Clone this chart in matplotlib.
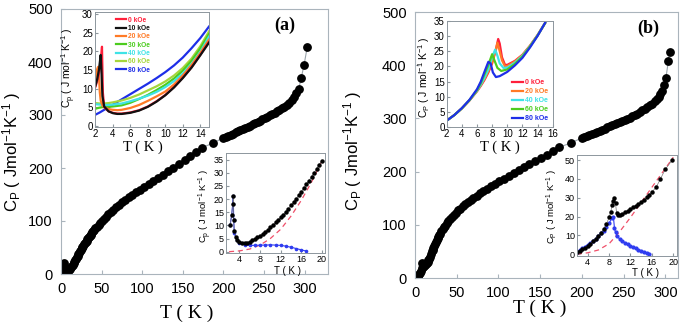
import matplotlib.pyplot as plt

plt.rcParams['font.family'] = 'Liberation Sans'
plt.rcParams['mathtext.default'] = 'regular'

SERIF = 'Liberation Serif'
SPINE = '#aab4bc'

# ---------------- panel (a): main curve
t_a = [1.8, 2.2, 2.5, 2.8, 3.0, 3.5, 4, 5, 6, 7, 8, 9, 10, 11, 12, 13, 14, 15, 16, 17,
       18, 19, 20, 21, 22, 23, 24, 25, 26, 27, 28, 29, 30, 31, 32, 33, 34, 35, 36, 37,
       38, 39, 40, 42, 44, 46, 48, 50, 52.5, 55, 58, 61, 64, 67.5, 71, 75, 79, 83, 87.5,
       92, 97, 102, 107.5, 113, 119, 125, 131.5, 138, 145, 152, 159, 166, 173, 187,
       200, 203, 206, 209, 212, 215, 218, 221, 224, 227, 230, 233, 236, 239, 242, 245,
       248, 251, 254, 257, 260, 263, 266, 269, 272, 275, 278, 281, 284, 287, 290, 293,
       296, 299.5, 303.5]
cp_a = [12, 16, 19, 20, 8, 4.5, 3.5, 3.2, 3.8, 4.8, 6.1, 7.6, 9.3, 11.1, 13.1, 15.2, 17.6,
        20.1, 22.8, 25.6, 28.5, 31.6, 34.6, 37.5, 40.3, 43, 45.7, 48.3, 50.9, 53.4, 55.9,
        58.4, 60.8, 63.2, 65.5, 67.8, 70, 72.2, 74.3, 76.4, 78.4, 80.4, 82.3, 86, 89.5,
        93, 96.5, 100, 104, 108, 112.5, 117, 121, 125.5, 130, 135, 140, 144.5, 149.5,
        154, 159, 164, 169.5, 175, 181, 187, 193.5, 200, 208, 215, 222, 230, 238, 247,
        257, 259, 261, 263, 265, 267, 269, 271, 273, 275, 277.5, 280, 282.5, 285, 287,
        289.5, 292, 294.5, 297, 299.5, 302, 304.5, 307, 310, 313, 316, 319, 323, 328,
        334, 341, 350, 370, 395, 429]

# panel (a) upper inset: Cp(T) in fields
fields_a = ['0 kOe', '10 kOe', '20 kOe', '30 kOe', '40 kOe', '60 kOe', '80 kOe']
colors_a = ['#ff1f3a', '#111111', '#ff7a26', '#4ccc1e', '#3fe3e6', '#a6d63c', '#1e2ee8']
t_spike0 = [2.0, 2.2, 2.4, 2.55, 2.65, 2.75, 2.85, 3.0, 3.5, 4.0, 4.5, 5.0, 6, 7, 8, 9,
            10, 11, 12, 13, 14, 15]
cp_0koe = [10.5, 12.0, 14.0, 16.5, 18.5, 21.2, 9.0, 5.0, 3.9, 3.5, 3.3, 3.3, 3.6, 4.2,
           5.2, 6.6, 8.3, 10.4, 12.9, 15.7, 19.0, 22.5]
t_spike10 = [2.0, 2.2, 2.4, 2.5, 2.6, 2.7, 2.8, 3.0, 3.5, 4.0, 4.5, 5.0, 6, 7, 8, 9, 10,
             11, 12, 13, 14, 15]
cp_10koe = [10.8, 12.5, 15.0, 17.0, 19.0, 14.0, 8.0, 5.2, 3.9, 3.4, 3.2, 3.2, 3.5, 4.1,
            5.1, 6.5, 8.2, 10.3, 12.8, 15.6, 18.9, 22.3]
t_spike20 = [2.0, 2.1, 2.2, 2.3, 2.4, 2.5, 2.6, 2.8, 3.0, 3.5, 4.0, 4.5, 5, 6, 7, 8, 9,
             10, 11, 12, 13, 14, 15]
cp_20koe = [12.5, 14.0, 15.2, 15.8, 13.5, 9.0, 6.8, 5.5, 5.0, 4.5, 4.3, 4.2, 4.3, 4.8,
            5.6, 6.7, 7.9, 9.2, 11.1, 13.5, 16.3, 19.5, 23.1]
t_smooth = [2, 2.5, 3, 3.5, 4, 5, 6, 7, 8, 9, 10, 11, 12, 13, 14, 15]
cp_30koe = [4.6, 4.9, 5.1, 5.1, 5.2, 5.5, 6.2, 7.2, 8.3, 9.6, 11.0, 12.7, 14.8, 17.4, 20.7, 24.6]
cp_40koe = [5.8, 5.7, 5.6, 5.6, 5.7, 6.0, 6.6, 7.3, 8.1, 9.1, 10.4, 12.0, 14.0, 16.6, 19.8, 23.9]
cp_60koe = [6.1, 6.0, 6.0, 6.1, 6.3, 6.8, 7.5, 8.4, 9.5, 10.6, 11.9, 13.5, 15.5, 18.0, 21.3, 25.3]
cp_80koe = [3.0, 3.6, 4.3, 5.0, 5.7, 7.1, 8.5, 9.9, 11.3, 12.8, 14.4, 16.2, 18.3, 20.8, 23.5, 26.6]

# panel (a) lower inset: total, lattice, magnetic
t_tot_a = [2.2, 2.5, 2.7, 2.8, 2.9, 3.0, 3.3, 3.6, 4.0, 4.5, 5, 5.5, 6, 6.5, 7, 7.5, 8, 8.5,
           9, 9.5, 10, 10.5, 11, 11.5, 12, 12.5, 13, 13.5, 14, 14.5, 15, 15.5, 16, 16.5,
           17, 17.5, 18, 18.5, 19, 19.5, 20]
cp_tot_a = [10, 14, 18, 21, 12, 8, 5.5, 4.3, 3.6, 3.3, 3.2, 3.4, 3.8, 4.3, 4.8, 5.4, 6.1,
            6.8, 7.6, 8.4, 9.3, 10.2, 11.1, 12.1, 13.1, 14.1, 15.2, 16.4, 17.6, 18.8, 20.1,
            21.4, 22.8, 24.2, 25.6, 27.0, 28.5, 30.0, 31.6, 33.1, 34.6]
t_lat_a = [2, 4, 6, 8, 10, 12, 14, 16, 18, 20]
cp_lat_a = [0, 0.3, 1.0, 2.5, 5.0, 8.5, 13.5, 19.5, 26.5, 34.5]
t_mag_a = [2.2, 2.5, 2.7, 2.8, 2.9, 3.0, 3.5, 4, 5, 6, 7, 8, 9, 10, 11, 12, 13, 14, 15,
           16, 17]
cp_mag_a = [10, 14, 18, 21, 12, 7, 4.5, 3.3, 2.6, 2.4, 2.4, 2.5, 2.5, 2.6, 2.5, 2.4, 2.1,
            1.7, 1.2, 0.7, 0.2]

# ---------------- panel (b): main curve
t_b = [2, 3, 4, 5, 6, 7, 8, 8.7, 9.2, 10, 11, 12, 13, 14, 15, 16, 17, 18, 19, 20, 21, 22,
       23, 24, 25, 26, 27, 28, 29, 30, 31.5, 33, 34.5, 36, 38, 40, 42, 44, 46.5, 49, 51.5,
       54, 57, 60, 63, 66.5, 70, 74, 78, 82, 86.5, 91, 96, 101, 106.5, 112, 118, 124,
       130.5, 137, 144, 151, 158, 165, 173, 187, 200, 203, 206, 209, 212, 215, 218, 221,
       224, 227, 230, 233, 236, 239, 242, 245, 248, 251, 254, 257, 260, 263, 266, 269,
       272, 275, 278, 281, 284, 287, 290, 292, 294, 296, 298, 300.5, 303.5, 305]
cp_b = [1, 2.5, 4.5, 6.8, 9.6, 13.5, 19.5, 29, 24, 21, 22.2, 24, 25.8, 27.7, 30.2, 33,
        36.5, 40, 45, 50, 53.5, 57, 60.5, 64, 67.5, 71, 74.5, 77.5, 80.5, 83.5, 87.5,
        91.5, 95, 98.5, 103, 107, 111, 114.5, 119, 123, 127, 130.5, 134.5, 138.5, 142,
        146, 150, 154.5, 159, 163, 167.5, 172, 177, 182, 187, 192, 197.5, 203, 208.5,
        214, 220, 226, 232, 238, 246, 254, 263.5, 265, 267, 269, 271, 273, 275, 277, 279,
        281, 283, 285, 287, 289, 291, 293, 295, 297, 299, 301.5, 304, 306.5, 309, 312,
        315, 318, 321, 324.5, 328, 332, 337, 341, 345, 352, 362, 376, 408, 425]

# panel (b) upper inset
fields_b = ['0 kOe', '20 kOe', '40 kOe', '60 kOe', '80 kOe']
colors_b = ['#ff1f3a', '#ff7a26', '#3fe3e6', '#4ccc1e', '#1e2ee8']
t_b0 = [2, 3, 4, 5, 6, 6.5, 7, 7.5, 8, 8.5, 8.8, 9.0, 9.3, 9.7, 10, 11, 12, 13, 14, 15]
cp_b0 = [2.2, 4.0, 6.2, 8.8, 11.8, 13.6, 15.6, 18.0, 21.0, 25.5, 29.0, 27.5, 23.0, 20.5,
         20.5, 21.8, 23.8, 26.8, 30.3, 34.3]
t_b20 = [2, 3, 4, 5, 6, 6.5, 7, 7.5, 8, 8.5, 8.7, 9.0, 9.3, 9.7, 10, 11, 12, 13, 14, 15]
cp_b20 = [2.2, 4.0, 6.2, 8.8, 11.9, 13.8, 15.9, 18.4, 21.5, 25.5, 27.8, 25.0, 22.0, 20.0,
          20.1, 21.6, 23.7, 26.7, 30.2, 34.2]
t_b40 = [2, 3, 4, 5, 6, 6.5, 7, 7.5, 8, 8.4, 8.7, 9.0, 9.5, 10, 11, 12, 13, 14, 15]
cp_b40 = [2.2, 4.0, 6.2, 8.9, 12.0, 14.0, 16.3, 19.0, 23.0, 25.5, 23.5, 21.0, 19.5, 19.6,
          21.2, 23.5, 26.6, 30.2, 34.3]
t_b60 = [2, 3, 4, 5, 6, 6.5, 7, 7.5, 8.0, 8.3, 8.7, 9.2, 10, 11, 12, 13, 14, 15]
cp_b60 = [2.2, 4.0, 6.2, 8.9, 12.2, 14.5, 17.5, 20.5, 24.0, 22.0, 19.5, 18.5, 19.0, 20.8,
          23.2, 26.5, 30.1, 34.2]
t_b80 = [2, 3, 4, 5, 6, 6.5, 7, 7.5, 7.8, 8.1, 8.5, 9, 10, 11, 12, 13, 14, 15]
cp_b80 = [2.2, 4.0, 6.3, 9.0, 12.5, 15.0, 18.3, 21.5, 21.0, 18.0, 16.5, 16.8, 18.2, 20.3,
          22.8, 26.2, 30.0, 34.3]

# panel (b) lower inset
t_tot_b = [2, 2.5, 3, 3.5, 4, 4.5, 5, 5.5, 6, 6.5, 7, 7.5, 8, 8.3, 8.6, 8.8, 9.0, 9.2, 9.4,
           9.7, 10, 10.5, 11, 11.5, 12, 12.5, 13, 13.5, 14, 14.5, 15, 15.5, 16, 16.8, 17.6,
           18.5, 19.8]
cp_tot_b = [1.2, 1.8, 2.5, 3.4, 4.5, 5.6, 6.8, 8.1, 9.6, 11.4, 13.5, 16, 19.5, 22.5, 26,
            28, 30, 27, 22, 21, 21, 21.5, 22.2, 23.1, 24, 24.9, 25.8, 26.7, 27.7, 28.9,
            30.2, 31.5, 33, 35.5, 40, 45, 50]
t_lat_b = [2, 4, 6, 8, 10, 12, 14, 16, 18, 20]
cp_lat_b = [0, 0.7, 2.2, 5.5, 12, 19.5, 27.5, 35.5, 43.5, 51.5]
t_mag_b = [2, 2.5, 3, 3.5, 4, 4.5, 5, 5.5, 6, 6.5, 7, 7.5, 8, 8.5, 8.8, 9.0, 9.2, 9.5, 10,
           10.5, 11, 11.5, 12, 12.5, 13, 13.5, 14, 14.5, 15, 15.5]
cp_mag_b = [1.2, 2.0, 3, 4, 5, 6, 7, 8.2, 9.5, 11, 12.5, 14.5, 16.5, 19, 20, 14, 11.5, 9.5,
            8, 7, 6, 5.2, 4.5, 3.7, 3, 2.4, 1.8, 1.3, 0.8, 0.2]


def style_main(ax):
    for s in ax.spines.values():
        s.set_color(SPINE)
        s.set_linewidth(0.8)
    ax.tick_params(direction='in', length=3, color=SPINE, labelsize=10.5, pad=6)


def style_inset(ax, size=7):
    for s in ax.spines.values():
        s.set_color('#8d969d')
        s.set_linewidth(0.7)
    ax.tick_params(direction='in', length=2, color='#8d969d', labelsize=size, pad=1.5)
    ax.set_facecolor('white')


fig = plt.figure(figsize=(6.85, 3.24), dpi=100)
W, H = 685.0, 324.0


def box(l, t, r, b):
    return [l / W, 1 - b / H, (r - l) / W, (b - t) / H]


line_kw = dict(color='#9aa4ab', lw=0.8, marker='o', ms=5.3, mfc='black', mec='black')

# ---- main (a)
ax = fig.add_axes(box(61, 9, 328, 274))
ax.plot(t_a, cp_a, **line_kw)
ax.set_xlim(-0.5, 329)
ax.set_ylim(0, 500)
ax.set_xticks(range(0, 301, 50))
ax.set_yticks(range(0, 501, 100))
style_main(ax)
fig.text(12 / W, 1 - 152 / H, 'C$_P$ ( Jmol$^{-1}$K$^{-1}$ )', rotation=90,
         ha='center', va='center', fontsize=12)
fig.text(187 / W, 1 - 313 / H, 'T ( K )', family=SERIF, fontsize=14,
         ha='center', va='center')
fig.text(285 / W, 1 - 25 / H, '(a)', family=SERIF, fontsize=13, weight='bold',
         ha='center', va='center')

# ---- inset (a) top
ai = fig.add_axes(box(95, 12, 209, 127))
series = [(t_spike0, cp_0koe), (t_spike10, cp_10koe), (t_spike20, cp_20koe),
          (t_smooth, cp_30koe), (t_smooth, cp_40koe), (t_smooth, cp_60koe),
          (t_smooth, cp_80koe)]
order = [6, 5, 3, 4, 2, 0, 1]
lines = {}
for i in order:
    tt, cc = series[i]
    lines[i], = ai.plot(tt, cc, color=colors_a[i], lw=1.6, label=fields_a[i])
ai.set_xlim(1.95, 15)
ai.set_ylim(-0.3, 30.5)
ai.set_xticks(range(2, 15, 2))
ai.set_yticks(range(0, 31, 5))
style_inset(ai)
ai.legend([lines[i] for i in range(7)], fields_a, loc='upper left',
          bbox_to_anchor=(0.14, 1.0), frameon=False, labelcolor='linecolor',
          prop={'size': 4.8, 'weight': 'bold'}, handlelength=1.6, handletextpad=0.2,
          labelspacing=0.2, borderpad=0.2)
fig.text(69 / W, 1 - 68 / H, 'C$_p$ ( J mol$^{-1}$ K$^{-1}$ )', rotation=90,
         ha='center', va='center', fontsize=7.5)
fig.text(143 / W, 1 - 147 / H, 'T ( K )', family=SERIF, fontsize=10.5,
         ha='center', va='center')

# ---- inset (a) bottom
ab = fig.add_axes(box(226, 153, 325, 253))
ab.plot(t_lat_a, cp_lat_a, color='#f0506a', lw=0.9, ls=(0, (4, 3)))
ab.plot(t_mag_a, cp_mag_a, color='#2f3cf0', lw=0.8, marker='o', ms=1.6)
ab.plot(t_tot_a, cp_tot_a, color='#777777', lw=0.5, marker='o', ms=2.2, mfc='black',
        mec='black')
ab.set_xlim(1.4, 20.6)
ab.set_ylim(-0.5, 37.5)
ab.set_xticks(range(4, 21, 4))
ab.set_yticks(range(0, 36, 5))
style_inset(ab, 6.5)
fig.text(205 / W, 1 - 206 / H, 'C$_p$ ( J mol$^{-1}$ K$^{-1}$ )', rotation=90,
         ha='center', va='center', fontsize=6.8)
fig.text(288 / W, 1 - 270.5 / H, 'T ( K )', fontsize=7, ha='center', va='center')

# ---- main (b)
bx = fig.add_axes(box(415, 12, 678, 278))
bx.plot(t_b, cp_b, **line_kw)
bx.set_xlim(0, 315)
bx.set_ylim(0, 500)
bx.set_xticks(range(0, 301, 50))
bx.set_yticks(range(0, 501, 100))
style_main(bx)
fig.text(353 / W, 1 - 151 / H, 'C$_P$ ( Jmol$^{-1}$K$^{-1}$ )', rotation=90,
         ha='center', va='center', fontsize=12)
fig.text(540 / W, 1 - 308 / H, 'T ( K )', family=SERIF, fontsize=14,
         ha='center', va='center')
fig.text(648 / W, 1 - 28 / H, '(b)', family=SERIF, fontsize=13, weight='bold',
         ha='center', va='center')

# ---- inset (b) top
bi = fig.add_axes(box(446.7, 20.7, 552.7, 127.3))
series_b = [(t_b0, cp_b0), (t_b20, cp_b20), (t_b40, cp_b40), (t_b60, cp_b60),
            (t_b80, cp_b80)]
for i, (tt, cc) in enumerate(series_b):
    bi.plot(tt, cc, color=colors_b[i], lw=1.6, label=fields_b[i])
bi.set_xlim(2, 16)
bi.set_ylim(0, 35)
bi.set_xticks(range(2, 17, 2))
bi.set_yticks(range(0, 36, 5))
style_inset(bi)
bi.legend(loc='lower right', bbox_to_anchor=(1.0, 0.0), frameon=False,
          labelcolor='linecolor', prop={'size': 5, 'weight': 'bold'},
          handlelength=1.6, handletextpad=0.2, labelspacing=0.3, borderpad=0.2)
fig.text(424 / W, 1 - 77 / H, 'C$_P$ ( J mol$^{-1}$ K$^{-1}$ )', rotation=90,
         ha='center', va='center', fontsize=7.5)
fig.text(500 / W, 1 - 147 / H, 'T ( K )', family=SERIF, fontsize=10.5,
         ha='center', va='center')

# ---- inset (b) bottom
bb = fig.add_axes(box(577, 155, 677, 256))
bb.plot(t_lat_b, cp_lat_b, color='#f0506a', lw=0.9, ls=(0, (4, 3)))
bb.plot(t_mag_b, cp_mag_b, color='#2f3cf0', lw=0.8, marker='o', ms=2.0)
bb.plot(t_tot_b, cp_tot_b, color='#777777', lw=0.5, marker='o', ms=2.2, mfc='black',
        mec='black')
bb.set_xlim(2, 20.7)
bb.set_ylim(-1, 52.7)
bb.set_xticks(range(4, 21, 4))
bb.set_yticks(range(0, 51, 10))
style_inset(bb, 6.5)
fig.text(552 / W, 1 - 207 / H, 'C$_P$ ( J mol$^{-1}$ K$^{-1}$ )', rotation=90,
         ha='center', va='center', fontsize=6.8)
fig.text(646 / W, 1 - 273.5 / H, 'T ( K )', fontsize=7, ha='center', va='center')

fig.savefig('out.png', dpi=100)
